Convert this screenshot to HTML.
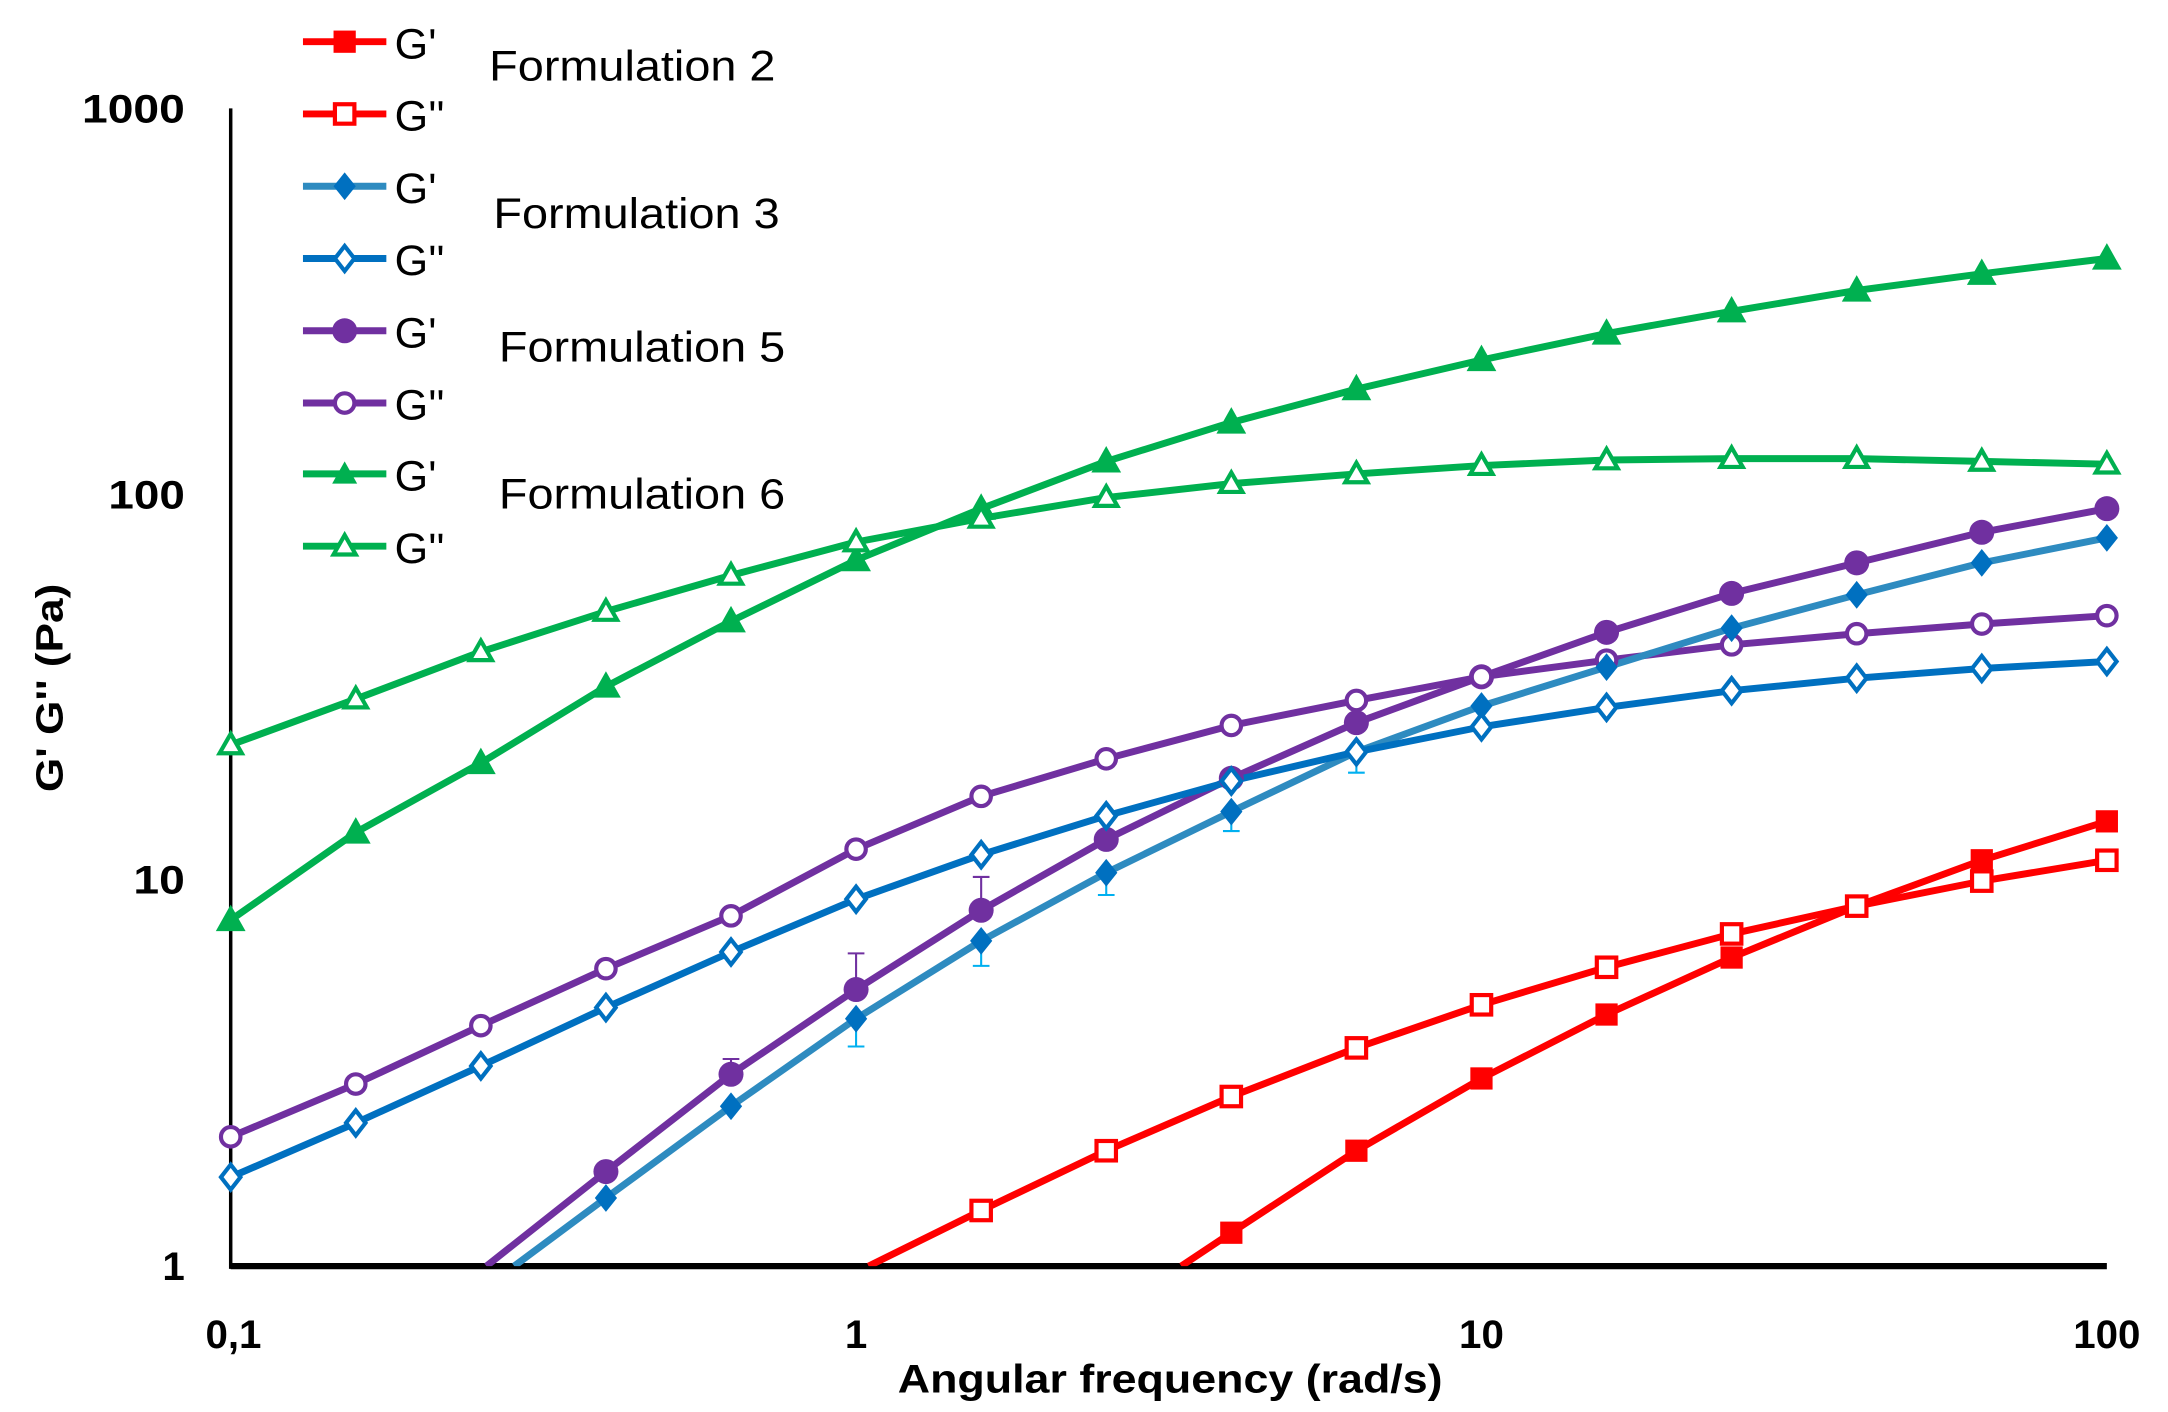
<!DOCTYPE html>
<html><head><meta charset="utf-8"><style>
html,body{margin:0;padding:0;background:#fff;}
svg{display:block;}
text{font-family:"Liberation Sans",sans-serif;}
</style></head><body>
<svg width="2168" height="1412" viewBox="0 0 1560 1016" preserveAspectRatio="none" xmlns="http://www.w3.org/2000/svg">
<defs>
<clipPath id="c"><rect x="166" y="60" width="1370" height="851"/></clipPath>
</defs>
<line x1="166" y1="78" x2="166" y2="913" stroke="#000" stroke-width="2.5"/>
<line x1="166" y1="911" x2="1516" y2="911" stroke="#000" stroke-width="4.5"/>
<g font-size="29" font-weight="bold" text-anchor="end">
<text x="133" y="88" textLength="74" lengthAdjust="spacingAndGlyphs">1000</text>
<text x="133" y="366" textLength="55" lengthAdjust="spacingAndGlyphs">100</text>
<text x="133" y="643" textLength="37" lengthAdjust="spacingAndGlyphs">10</text>
<text x="133" y="921">1</text>
</g>
<g font-size="29" font-weight="bold" text-anchor="middle">
<text x="168" y="970">0,1</text>
<text x="616" y="970">1</text>
<text x="1066" y="970">10</text>
<text x="1516" y="970">100</text>
<text x="842" y="1002" textLength="392" lengthAdjust="spacingAndGlyphs">Angular frequency (rad/s)</text>
</g>
<text transform="translate(45,495) rotate(-90)" font-size="27" font-weight="bold" text-anchor="middle" textLength="150" lengthAdjust="spacingAndGlyphs">G' G'' (Pa)</text>

<g clip-path="url(#c)" fill="none" stroke-width="5" stroke-linejoin="round">
<polyline stroke="#00b050" points="166,662 256,599 346,549 436,494 526,447 616,403 706,366 796,332 886,304 976,280 1066,259 1156,240 1246,224 1336,209 1426,197 1516,186"/>
<polyline stroke="#00b050" points="166,536 256,503 346,469 436,440 526,414 616,390 706,373 796,358 886,348 976,341 1066,335 1156,331 1246,330 1336,330 1426,332 1516,334"/>
<polyline stroke="#7030a0" points="350,911 436,843 526,773 616,712 706,655 796,604 886,560 976,520 1066,487 1156,455 1246,427 1336,405 1426,383 1516,366"/>
<polyline stroke="#7030a0" points="166,818 256,780 346,738 436,697 526,659 616,611 706,573 796,546 886,522 976,504 1066,487 1156,475 1246,464 1336,456 1426,449 1516,443"/>
<polyline stroke="#2e8bc0" points="370,911 436,862 526,796 616,733 706,677 796,628 886,584 976,541 1066,508 1156,480 1246,452 1336,428 1426,405 1516,387"/>
<polyline stroke="#0070c0" points="166,847 256,808 346,767 436,725 526,685 616,647 706,615 796,587 886,562 976,541 1066,523 1156,509 1246,497 1336,488 1426,481 1516,476"/>
<polyline stroke="#ff0000" points="850,911 886,887 976,828 1066,776 1156,730 1246,689 1336,652 1426,619 1516,591"/>
<polyline stroke="#ff0000" points="625,911 706,871 796,828 886,789 976,754 1066,723 1156,696 1246,672 1336,652 1426,634 1516,619"/>
</g>
<g stroke-width="1.5" fill="none">
<path stroke="#7030a0" d="M616,686V712 M610,686h12 M706,631V655 M700,631h12 M526,762V773 M520,762h12 M796,590V604 M790,590h12"/>
<path stroke="#00b0f0" d="M616,753V733 M610,753h12 M706,695V677 M700,695h12 M796,644V628 M790,644h12 M886,598V584 M880,598h12 M976,556V541 M970,556h12"/>
</g>
<g>
<g fill="#00b050" stroke="#00b050" stroke-width="2">
<path d="M166,653l9,16h-18z M256,590l9,16h-18z M346,540l9,16h-18z M436,485l9,16h-18z M526,438l9,16h-18z M616,394l9,16h-18z M706,357l9,16h-18z M796,323l9,16h-18z M886,295l9,16h-18z M976,271l9,16h-18z M1066,250l9,16h-18z M1156,231l9,16h-18z M1246,215l9,16h-18z M1336,200l9,16h-18z M1426,188l9,16h-18z M1516,177l9,16h-18z"/>
</g>
<g fill="#fff" stroke="#00b050" stroke-width="3">
<path d="M166,528l8,14h-16z M256,495l8,14h-16z M346,461l8,14h-16z M436,432l8,14h-16z M526,406l8,14h-16z M616,382l8,14h-16z M706,365l8,14h-16z M796,350l8,14h-16z M886,340l8,14h-16z M976,333l8,14h-16z M1066,327l8,14h-16z M1156,323l8,14h-16z M1246,322l8,14h-16z M1336,322l8,14h-16z M1426,324l8,14h-16z M1516,326l8,14h-16z"/>
</g>
<g fill="#7030a0">
<circle cx="436" cy="843" r="9"/><circle cx="526" cy="773" r="9"/><circle cx="616" cy="712" r="9"/><circle cx="706" cy="655" r="9"/><circle cx="796" cy="604" r="9"/><circle cx="886" cy="560" r="9"/><circle cx="976" cy="520" r="9"/><circle cx="1066" cy="487" r="9"/><circle cx="1156" cy="455" r="9"/><circle cx="1246" cy="427" r="9"/><circle cx="1336" cy="405" r="9"/><circle cx="1426" cy="383" r="9"/><circle cx="1516" cy="366" r="9"/>
</g>
<g fill="#fff" stroke="#7030a0" stroke-width="3">
<circle cx="166" cy="818" r="7"/><circle cx="256" cy="780" r="7"/><circle cx="346" cy="738" r="7"/><circle cx="436" cy="697" r="7"/><circle cx="526" cy="659" r="7"/><circle cx="616" cy="611" r="7"/><circle cx="706" cy="573" r="7"/><circle cx="796" cy="546" r="7"/><circle cx="886" cy="522" r="7"/><circle cx="976" cy="504" r="7"/><circle cx="1066" cy="487" r="7"/><circle cx="1156" cy="475" r="7"/><circle cx="1246" cy="464" r="7"/><circle cx="1336" cy="456" r="7"/><circle cx="1426" cy="449" r="7"/><circle cx="1516" cy="443" r="7"/>
</g>
<g fill="#0070c0">
<path d="M436,852l8,10-8,10-8-10z M526,786l8,10-8,10-8-10z M616,723l8,10-8,10-8-10z M706,667l8,10-8,10-8-10z M796,618l8,10-8,10-8-10z M886,574l8,10-8,10-8-10z M976,531l8,10-8,10-8-10z M1066,498l8,10-8,10-8-10z M1156,470l8,10-8,10-8-10z M1246,442l8,10-8,10-8-10z M1336,418l8,10-8,10-8-10z M1426,395l8,10-8,10-8-10z M1516,377l8,10-8,10-8-10z"/>
</g>
<g fill="#fff" stroke="#0070c0" stroke-width="3">
<path d="M166,838l7,9-7,9-7-9z M256,799l7,9-7,9-7-9z M346,758l7,9-7,9-7-9z M436,716l7,9-7,9-7-9z M526,676l7,9-7,9-7-9z M616,638l7,9-7,9-7-9z M706,606l7,9-7,9-7-9z M796,578l7,9-7,9-7-9z M886,553l7,9-7,9-7-9z M976,532l7,9-7,9-7-9z M1066,514l7,9-7,9-7-9z M1156,500l7,9-7,9-7-9z M1246,488l7,9-7,9-7-9z M1336,479l7,9-7,9-7-9z M1426,472l7,9-7,9-7-9z M1516,467l7,9-7,9-7-9z"/>
</g>
<g fill="#ff0000">
<rect x="878" y="879" width="16" height="16"/><rect x="968" y="820" width="16" height="16"/><rect x="1058" y="768" width="16" height="16"/><rect x="1148" y="722" width="16" height="16"/><rect x="1238" y="681" width="16" height="16"/><rect x="1328" y="644" width="16" height="16"/><rect x="1418" y="611" width="16" height="16"/><rect x="1508" y="583" width="16" height="16"/>
</g>
<g fill="#fff" stroke="#ff0000" stroke-width="3">
<rect x="699" y="864" width="14" height="14"/><rect x="789" y="821" width="14" height="14"/><rect x="879" y="782" width="14" height="14"/><rect x="969" y="747" width="14" height="14"/><rect x="1059" y="716" width="14" height="14"/><rect x="1149" y="689" width="14" height="14"/><rect x="1239" y="665" width="14" height="14"/><rect x="1329" y="645" width="14" height="14"/><rect x="1419" y="627" width="14" height="14"/><rect x="1509" y="612" width="14" height="14"/>
</g>
</g>

<g stroke-width="5">
<line x1="218" y1="30" x2="278" y2="30" stroke="#ff0000"/>
<line x1="218" y1="82" x2="278" y2="82" stroke="#ff0000"/>
<line x1="218" y1="134" x2="278" y2="134" stroke="#2e8bc0"/>
<line x1="218" y1="186" x2="278" y2="186" stroke="#0070c0"/>
<line x1="218" y1="238" x2="278" y2="238" stroke="#7030a0"/>
<line x1="218" y1="290" x2="278" y2="290" stroke="#7030a0"/>
<line x1="218" y1="341" x2="278" y2="341" stroke="#00b050"/>
<line x1="218" y1="393" x2="278" y2="393" stroke="#00b050"/>
</g>
<rect x="240" y="22" width="16" height="16" fill="#ff0000"/>
<rect x="241" y="75" width="14" height="14" fill="#fff" stroke="#ff0000" stroke-width="3"/>
<path d="M248,124l8,10-8,10-8-10z" fill="#0070c0"/>
<path d="M248,177l7,9-7,9-7-9z" fill="#fff" stroke="#0070c0" stroke-width="3"/>
<circle cx="248" cy="238" r="9" fill="#7030a0"/>
<circle cx="248" cy="290" r="7" fill="#fff" stroke="#7030a0" stroke-width="3"/>
<path d="M248,332l9,16h-18z" fill="#00b050"/>
<path d="M248,385l8,14h-16z" fill="#fff" stroke="#00b050" stroke-width="3"/>
<g font-size="31" fill="#000">
<text x="284" y="42">G'</text>
<text x="284" y="94">G''</text>
<text x="284" y="146">G'</text>
<text x="284" y="198">G''</text>
<text x="284" y="250">G'</text>
<text x="284" y="302">G''</text>
<text x="284" y="353">G'</text>
<text x="284" y="405">G''</text>
<text x="352" y="58" textLength="206" lengthAdjust="spacingAndGlyphs">Formulation 2</text>
<text x="355" y="164" textLength="206" lengthAdjust="spacingAndGlyphs">Formulation 3</text>
<text x="359" y="260" textLength="206" lengthAdjust="spacingAndGlyphs">Formulation 5</text>
<text x="359" y="366" textLength="206" lengthAdjust="spacingAndGlyphs">Formulation 6</text>
</g>
</svg>
</body></html>
